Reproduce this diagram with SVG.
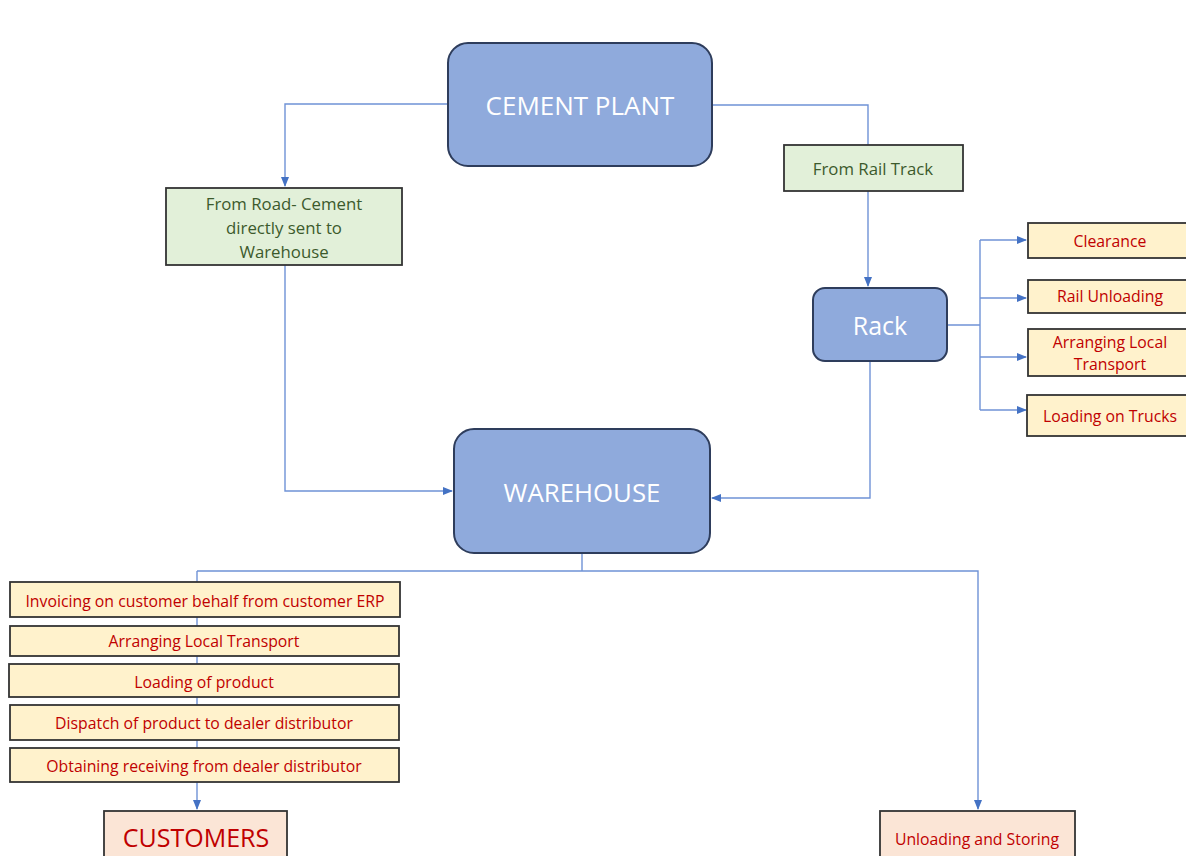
<svg xmlns="http://www.w3.org/2000/svg" width="1186" height="856" viewBox="0 0 1186 856">
<defs>
<marker id="arr" markerWidth="10" markerHeight="10" refX="9" refY="5" orient="auto" markerUnits="userSpaceOnUse">
<path d="M0,1 L10,5 L0,9 Z" fill="#4472c4"/>
</marker>
<style>
.main{fill:#8faadc;stroke:#2e3d5c;stroke-width:2}
.green{fill:#e2f0d9;stroke:#333;stroke-width:1.8}
.yel{fill:#fff2cc;stroke:#333;stroke-width:1.8}
.pink{fill:#fbe5d6;stroke:#333;stroke-width:1.8}
.conn{fill:none;stroke:#6f92d6;stroke-width:1.4}
.wt{font-family:"Open Sans","Liberation Sans",sans-serif;fill:#fff;text-anchor:middle;dominant-baseline:central}
.gt{font-family:"Open Sans","Liberation Sans",sans-serif;fill:#3c5a2c;font-size:16.8px;text-anchor:middle;dominant-baseline:central}
.rt{font-family:"Open Sans","Liberation Sans",sans-serif;fill:#c00000;font-size:15.8px;text-anchor:middle;dominant-baseline:central}
</style>
</defs>
<rect width="1186" height="856" fill="#fff"/>
<g id="connectors">
<path class="conn" d="M448,104 H285 V186" marker-end="url(#arr)"/>
<path class="conn" d="M712,105 H868 V145"/>
<path class="conn" d="M868,191 V286" marker-end="url(#arr)"/>
<path class="conn" d="M285,265 V491 H452" marker-end="url(#arr)"/>
<path class="conn" d="M870,361 V498 H712" marker-end="url(#arr)"/>
<path class="conn" d="M947,325 H980"/>
<path class="conn" d="M980,240 V410"/>
<path class="conn" d="M980,240 H1026" marker-end="url(#arr)"/>
<path class="conn" d="M980,298 H1026" marker-end="url(#arr)"/>
<path class="conn" d="M980,357 H1026" marker-end="url(#arr)"/>
<path class="conn" d="M980,410 H1026" marker-end="url(#arr)"/>
<path class="conn" d="M582,553 V571"/>
<path class="conn" d="M197,571 H978 V809" marker-end="url(#arr)"/>
<path class="conn" d="M197,571 V809" marker-end="url(#arr)"/>
</g>
<g id="cement-plant">
<rect class="main" x="448" y="43" width="264" height="123" rx="20"/>
<text class="wt" x="580" y="105" style="font-size:26px">CEMENT PLANT</text>
</g>
<g id="from-rail">
<rect class="green" x="784" y="145" width="179" height="46"/>
<text class="gt" x="873" y="168">From Rail Track</text>
</g>
<g id="from-road">
<rect class="green" x="166" y="188" width="236" height="77"/>
<text class="gt" x="284" y="203">From Road- Cement</text>
<text class="gt" x="284" y="227">directly sent to</text>
<text class="gt" x="284" y="251">Warehouse</text>
</g>
<g id="rack">
<rect class="main" x="813" y="288" width="134" height="73" rx="12"/>
<text class="wt" x="880" y="325" style="font-size:25px">Rack</text>
</g>
<g id="clearance">
<rect class="yel" x="1028" y="223" width="162" height="35"/>
<text class="rt" x="1110" y="241">Clearance</text>
</g>
<g id="rail-unloading">
<rect class="yel" x="1028" y="280" width="162" height="33"/>
<text class="rt" x="1110" y="296">Rail Unloading</text>
</g>
<g id="arranging-local-transport-rack">
<rect class="yel" x="1028" y="329" width="162" height="47"/>
<text class="rt" x="1110" y="342">Arranging Local</text>
<text class="rt" x="1110" y="364">Transport</text>
</g>
<g id="loading-trucks">
<rect class="yel" x="1027" y="395" width="163" height="41"/>
<text class="rt" x="1110" y="416">Loading on Trucks</text>
</g>
<g id="warehouse">
<rect class="main" x="454" y="429" width="256" height="124" rx="20"/>
<text class="wt" x="582" y="492" style="font-size:25.8px">WAREHOUSE</text>
</g>
<g id="invoicing">
<rect class="yel" x="10" y="582" width="390" height="35"/>
<text class="rt" x="205" y="601">Invoicing on customer behalf from customer ERP</text>
</g>
<g id="arranging-local-transport">
<rect class="yel" x="10" y="626" width="389" height="30"/>
<text class="rt" x="204" y="641">Arranging Local Transport</text>
</g>
<g id="loading-product">
<rect class="yel" x="9" y="664" width="390" height="33"/>
<text class="rt" x="204" y="682">Loading of product</text>
</g>
<g id="dispatch">
<rect class="yel" x="10" y="705" width="389" height="35"/>
<text class="rt" x="204" y="723">Dispatch of product to dealer distributor</text>
</g>
<g id="obtaining">
<rect class="yel" x="10" y="748" width="389" height="34"/>
<text class="rt" x="204" y="766">Obtaining receiving from dealer distributor</text>
</g>
<g id="customers">
<rect class="pink" x="104" y="811" width="183" height="50"/>
<text class="rt" x="196" y="837" style="font-size:25px">CUSTOMERS</text>
</g>
<g id="unloading-storing">
<rect class="pink" x="880" y="811" width="195" height="50"/>
<text class="rt" x="977" y="839">Unloading and Storing</text>
</g>
</svg>
